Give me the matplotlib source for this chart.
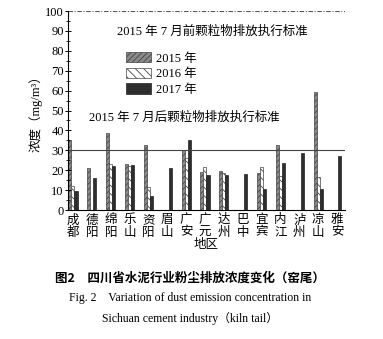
import numpy as np
import matplotlib.pyplot as plt
from matplotlib.patches import Patch

plt.rcParams['font.family'] = ['Liberation Serif', 'Noto Sans CJK SC']
plt.rcParams['hatch.linewidth'] = 0.6

# regions (two characters stacked in the tick labels)
regions = ['成都', '德阳', '绵阳', '乐山', '资阳', '眉山', '广安', '广元',
           '达州', '巴中', '宜宾', '内江', '泸州', '凉山', '雅安']
# dust concentration, mg/m3 (nan = no data)
y2015 = [35, 21, 38.5, 23, 32.5, np.nan, 30, 19.2, 19.7, np.nan, 18.7, 32.7, np.nan, 59.3, np.nan]
y2016 = [12, np.nan, 23, 22, 11.5, np.nan, 26, 21.4, 18.7, np.nan, 21.8, 17, np.nan, 16.7, np.nan]
y2017 = [9.5, 16, 22, 22.5, 7, 21, 35, 17.6, 17.6, 17.9, 10.4, 23.4, 28.8, 10.5, 27.1]
limit_before = 100
limit_after = 30

fig = plt.figure(figsize=(3.83, 3.39), dpi=100)
ax = fig.add_axes([0.1775, 0.3805, 0.723, 0.587])

x = np.arange(len(regions))
w = 0.16
ax.bar(x - w, y2015, w, color='#8a8a8a', edgecolor='#444444', hatch='//////', linewidth=0.5)
ax.bar(x, y2016, w, color='white', edgecolor='#444444', hatch='\\\\\\\\', linewidth=0.5)
ax.bar(x + w, y2017, w, color='#2e2e2e', edgecolor='#222222', linewidth=0.5)

ax.axhline(limit_before, color='#555555', lw=0.8, ls=(0, (4, 1.5, 1, 1.5)))
ax.axhline(limit_after, color='#444444', lw=0.8)

ax.text(0.52, 0.897, '2015 年 7 月前颗粒物排放执行标准', transform=ax.transAxes,
        ha='center', va='center', fontsize=9)
ax.text(0.42, 0.462, '2015 年 7 月后颗粒物排放执行标准', transform=ax.transAxes,
        ha='center', va='center', fontsize=9)

handles = [Patch(facecolor='#8a8a8a', edgecolor='#444444', hatch='//////', lw=0.5),
           Patch(facecolor='white', edgecolor='#444444', hatch='\\\\\\\\', lw=0.5),
           Patch(facecolor='#2e2e2e', edgecolor='#222222', lw=0.5)]
ax.legend(handles, ['2015 年', '2016 年', '2017 年'], loc='upper left',
          bbox_to_anchor=(0.17, 0.85), frameon=False, fontsize=9,
          handlelength=2.0, handleheight=0.9, labelspacing=0.25, handletextpad=0.4)

ax.set_xlim(-0.265, 14.42)
ax.set_ylim(0, 100)
ax.set_yticks(np.arange(0, 101, 10))
ax.set_yticks(np.arange(0, 101, 5), minor=True)
ax.tick_params(axis='y', direction='inout', length=4, width=0.7, labelsize=9, pad=1)
ax.tick_params(axis='y', which='minor', direction='inout', length=2.5, width=0.6)
ax.set_xticks(x)
ax.set_xticklabels(['\n'.join(r) for r in regions], fontsize=9, linespacing=1.05)
ax.tick_params(axis='x', length=0, pad=3)
for s in ['top', 'right']:
    ax.spines[s].set_visible(False)
ax.spines['left'].set_linewidth(0.8)
ax.spines['bottom'].set_linewidth(0.8)
ax.set_ylabel('浓度（mg/m³）', fontsize=9, labelpad=2)
ax.set_xlabel('地区', fontsize=9, labelpad=0)

fig.text(0.497, 0.178, '图2　四川省水泥行业粉尘排放浓度变化（窑尾）',
         family=['Noto Sans CJK SC'], weight='bold', fontsize=9, ha='center', va='center')
fig.text(0.497, 0.12, 'Fig. 2　Variation of dust emission concentration in',
         family=['Liberation Serif', 'Noto Sans CJK SC'], fontsize=8.5, ha='center', va='center')
fig.text(0.497, 0.062, 'Sichuan cement industry（kiln tail）',
         family=['Liberation Serif', 'Noto Sans CJK SC'], fontsize=8.5, ha='center', va='center')

fig.savefig('out.png', dpi=100)
